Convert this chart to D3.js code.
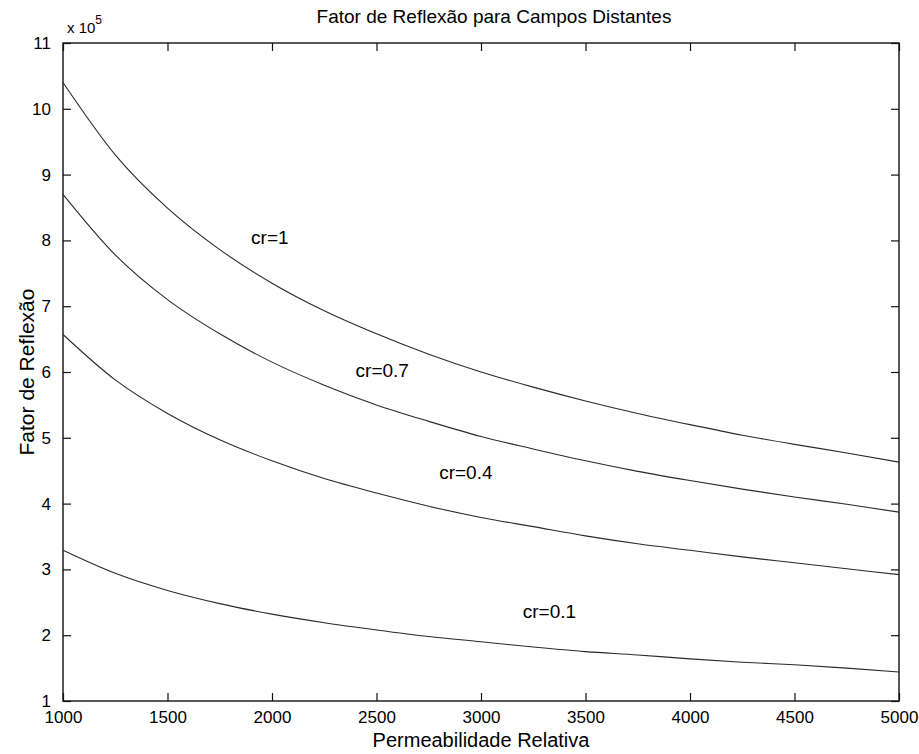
<!DOCTYPE html>
<html>
<head>
<meta charset="utf-8">
<script src="https://cdn.jsdelivr.net/npm/d3@7"></script>
<style>
  html, body { margin: 0; padding: 0; background: #fff; }
  svg { display: block; font-family: "Liberation Sans", Arial, sans-serif; }
</style>
</head>
<body>
<svg id="chart" width="919" height="754"></svg>
<script>
// Relative permeability (x axis)
const permeability = [1000, 1250, 1500, 1750, 2000, 2250, 2500, 2750, 3000,
                      3250, 3500, 3750, 4000, 4250, 4500, 4750, 5000];

// Reflection factor, in units of 10^5, one list per relative conductivity
const cr1  = [10.40, 9.30, 8.49, 7.86, 7.35, 6.93, 6.58, 6.27, 6.00,
              5.77, 5.56, 5.37, 5.20, 5.04, 4.90, 4.77, 4.63];
const cr07 = [8.70, 7.78, 7.10, 6.58, 6.15, 5.80, 5.50, 5.25, 5.02,
              4.83, 4.65, 4.49, 4.35, 4.22, 4.10, 3.99, 3.87];
const cr04 = [6.57, 5.88, 5.37, 4.97, 4.65, 4.38, 4.16, 3.96, 3.79,
              3.65, 3.51, 3.39, 3.29, 3.19, 3.10, 3.01, 2.92];
const cr01 = [3.29, 2.94, 2.68, 2.48, 2.32, 2.19, 2.08, 1.98, 1.90,
              1.82, 1.75, 1.70, 1.64, 1.59, 1.55, 1.50, 1.44];

const seriesNames = ["cr=1", "cr=0.7", "cr=0.4", "cr=0.1"];
const seriesValues = [cr1, cr07, cr04, cr01];
// Where each curve label sits (permeability, value)
const labelAnchors = [[1900, 7.95], [2400, 5.92], [2800, 4.37], [3200, 2.26]];

const xTicks = [1000, 1500, 2000, 2500, 3000, 3500, 4000, 4500, 5000];
const yTicks = [1, 2, 3, 4, 5, 6, 7, 8, 9, 10, 11];

const svg = d3.select("#chart");
const L = 63, R = 899, T = 43, B = 701;

const x = d3.scaleLinear().domain([1000, 5000]).range([L, R]);
const y = d3.scaleLinear().domain([1, 11]).range([B, T]);

const tickLen = 8;

// Axes with inward ticks on all four sides
const gBottom = svg.append("g").attr("transform", `translate(0,${B})`)
  .call(d3.axisBottom(x).tickValues(xTicks).tickSizeInner(-tickLen).tickSizeOuter(0).tickPadding(10).tickFormat(d3.format("d")));
const gTop = svg.append("g").attr("transform", `translate(0,${T})`)
  .call(d3.axisTop(x).tickValues(xTicks).tickSizeInner(-tickLen).tickSizeOuter(0).tickFormat(""));
const gLeft = svg.append("g").attr("transform", `translate(${L},0)`)
  .call(d3.axisLeft(y).tickValues(yTicks).tickSizeInner(-tickLen).tickSizeOuter(0).tickPadding(12).tickFormat(d3.format("d")));
const gRight = svg.append("g").attr("transform", `translate(${R},0)`)
  .call(d3.axisRight(y).tickValues(yTicks).tickSizeInner(-tickLen).tickSizeOuter(0).tickFormat(""));

[gBottom, gTop, gLeft, gRight].forEach(g => {
  g.select(".domain").remove();
  g.selectAll(".tick line").attr("stroke", "#111").attr("stroke-width", 1.2);
  g.selectAll(".tick text").attr("fill", "#000").attr("font-size", 17)
    .attr("font-family", "'Liberation Sans', Arial, sans-serif");
});
gBottom.selectAll(".tick text").attr("dy", "0.71em");

// Plot frame
svg.append("rect")
  .attr("x", L).attr("y", T).attr("width", R - L).attr("height", B - T)
  .attr("fill", "none").attr("stroke", "#111").attr("stroke-width", 1.4);

// Curves
const line = d3.line()
  .x((d, i) => x(permeability[i]))
  .y(d => y(d))
  .curve(d3.curveMonotoneX);

svg.append("g").selectAll("path")
  .data(seriesValues)
  .join("path")
  .attr("d", d => line(d))
  .attr("fill", "none")
  .attr("stroke", "#2a2a2a")
  .attr("stroke-width", 1.1);

// Curve labels
svg.append("g").selectAll("text")
  .data(seriesNames)
  .join("text")
  .attr("x", (d, i) => x(labelAnchors[i][0]))
  .attr("y", (d, i) => y(labelAnchors[i][1]))
  .attr("font-size", 19)
  .attr("fill", "#000")
  .text(d => d);

// Exponent marker above the y axis
const expo = svg.append("text").attr("x", 67).attr("y", 33).attr("font-size", 15).attr("fill", "#000");
expo.append("tspan").text("x 10");
expo.append("tspan").attr("dy", -9).attr("font-size", 12).text("5");

// Title
svg.append("text")
  .attr("x", 494).attr("y", 23)
  .attr("text-anchor", "middle").attr("font-size", 19).attr("fill", "#000")
  .text("Fator de Reflexão para Campos Distantes");

// Axis titles
svg.append("text")
  .attr("x", (L + R) / 2).attr("y", 747)
  .attr("text-anchor", "middle").attr("font-size", 20).attr("fill", "#000")
  .text("Permeabilidade Relativa");

svg.append("text")
  .attr("transform", `translate(34,${(T + B) / 2}) rotate(-90)`)
  .attr("text-anchor", "middle").attr("font-size", 21).attr("fill", "#000")
  .text("Fator de Reflexão");
</script>
</body>
</html>
